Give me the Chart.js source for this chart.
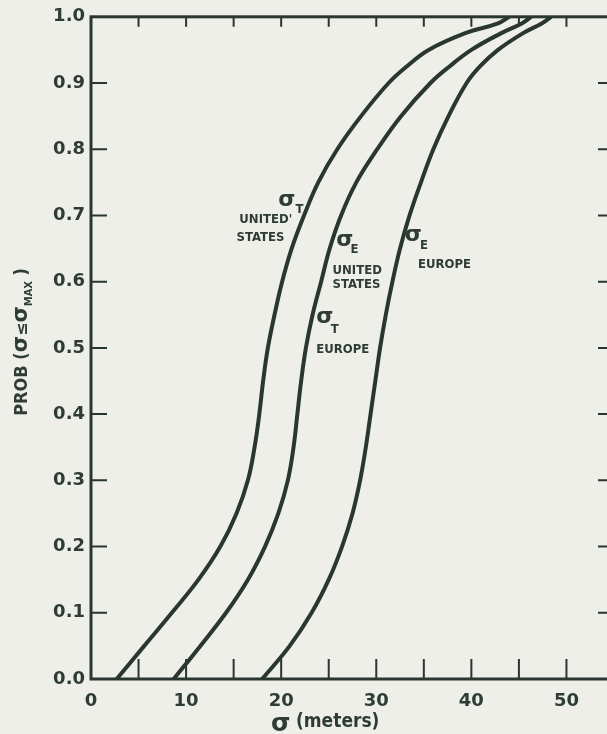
<!DOCTYPE html>
<html>
<head>
<meta charset="utf-8">
<script src="https://cdn.jsdelivr.net/npm/chart.js@4"></script>
<style>
  html, body { margin: 0; padding: 0; background: #eeefe8; overflow: hidden; }
  #wrap { position: absolute; left: 0; top: 0; width: 630px; height: 734px; }
</style>
</head>
<body>
<div id="wrap"><canvas id="chart"></canvas></div>
<script>
// probability levels
const probLevels = [0, 0.05, 0.1, 0.15, 0.2, 0.25, 0.3, 0.35, 0.4, 0.45, 0.5, 0.55, 0.6, 0.65, 0.7, 0.75, 0.8, 0.85, 0.9, 0.925, 0.95, 0.975, 0.99, 1.0];

// sigma (meters) at each level
const sigmaTUnitedStates = [2.7, 5.6, 8.5, 11.3, 13.6, 15.3, 16.5, 17.2, 17.7, 18.1, 18.6, 19.3, 20.1, 21.1, 22.4, 23.9, 25.9, 28.4, 31.3, 33.2, 35.5, 39.3, 42.8, 44.0];
const sigmaEUSTEurope   = [8.7, 11.5, 14.2, 16.5, 18.3, 19.7, 20.7, 21.3, 21.7, 22.1, 22.6, 23.3, 24.2, 25.1, 26.3, 27.9, 30.1, 32.6, 35.7, 37.7, 40.0, 43.1, 45.3, 46.3];
const sigmaEEurope      = [18.0, 20.9, 23.2, 25.0, 26.4, 27.5, 28.3, 28.9, 29.4, 29.9, 30.4, 31.0, 31.7, 32.5, 33.5, 34.7, 36.0, 37.6, 39.5, 40.9, 42.8, 45.4, 47.4, 48.4];

const xMax = 55;
const xStep = 5;
const yStep = 0.1;

// curve labels: symbol, subscript, lines of text (anchored in data units)
const curveLabels = [
  { sym: [19.7, 0.715], sub: "T", subAt: [21.5, 0.704], lines: [["UNITED'", 15.6, 0.688], ["STATES", 15.3, 0.662]] },
  { sym: [25.8, 0.654], sub: "E", subAt: [27.3, 0.643], lines: [["UNITED", 25.4, 0.612], ["STATES", 25.4, 0.590]] },
  { sym: [23.7, 0.537], sub: "T", subAt: [25.2, 0.522], lines: [["EUROPE", 23.7, 0.493]] },
  { sym: [33.0, 0.662], sub: "E", subAt: [34.6, 0.650], lines: [["EUROPE", 34.4, 0.621]] }
];

const ink = "#2a3631";
const textInk = "#2f3b36";
const cond = "'DejaVu Sans Condensed', 'DejaVu Sans'";

function toPoints(xs) {
  return xs.map((x, i) => ({ x: x, y: probLevels[i] }));
}

const framePlugin = {
  id: "frame",
  beforeDatasetsDraw(chart) {
    const { ctx, chartArea: a, scales } = chart;
    ctx.save();
    ctx.strokeStyle = ink;
    ctx.lineWidth = 2;
    ctx.beginPath();
    for (let v = xStep; v < xMax; v += xStep) {
      const px = scales.x.getPixelForValue(v);
      ctx.moveTo(px, a.bottom); ctx.lineTo(px, a.bottom - 20);
      ctx.moveTo(px, a.top); ctx.lineTo(px, a.top + 10);
    }
    for (let i = 1; i < 10; i++) {
      const py = scales.y.getPixelForValue(i * yStep);
      ctx.moveTo(a.left, py); ctx.lineTo(a.left + 16, py);
      ctx.moveTo(a.right, py); ctx.lineTo(a.right - 16, py);
    }
    ctx.stroke();
    ctx.lineWidth = 3;
    ctx.strokeRect(a.left, a.top, a.right - a.left, a.bottom - a.top);
    ctx.restore();
  },
  afterDraw(chart) {
    const { ctx, chartArea: a, scales } = chart;
    ctx.save();
    ctx.fillStyle = textInk;
    ctx.textBaseline = "alphabetic";
    ctx.textAlign = "left";
    const X = (v) => scales.x.getPixelForValue(v);
    const Y = (v) => scales.y.getPixelForValue(v);

    curveLabels.forEach((lab) => {
      ctx.font = "bold 22px 'DejaVu Sans'";
      ctx.fillText("\u03c3", X(lab.sym[0]), Y(lab.sym[1]));
      ctx.font = "bold 13px " + cond;
      ctx.fillText(lab.sub, X(lab.subAt[0]), Y(lab.subAt[1]));
      lab.lines.forEach((l) => {
        ctx.font = "bold 13px " + cond;
        ctx.fillText(l[0], X(l[1]), Y(l[2]));
      });
    });

    // x axis title
    ctx.font = "bold 25px 'DejaVu Sans'";
    ctx.fillText("\u03c3", 271, 731);
    ctx.font = "bold 19px " + cond;
    ctx.fillText("(meters)", 296, 727);

    // y axis title, rotated
    const parts = [
      ["PROB (", "bold 18px " + cond, 0],
      ["\u03c3", "bold 21px 'DejaVu Sans'", 0],
      ["\u2264", "bold 16px 'DejaVu Sans'", 0],
      ["\u03c3", "bold 21px 'DejaVu Sans'", 0],
      ["MAX", "bold 11px " + cond, 5],
      [" )", "bold 18px " + cond, 0]
    ];
    let total = 0;
    parts.forEach((p) => { ctx.font = p[1]; total += ctx.measureText(p[0]).width; });
    ctx.translate(27, (a.top + a.bottom) / 2 - 6);
    ctx.rotate(-Math.PI / 2);
    let cx = -total / 2;
    parts.forEach((p) => {
      ctx.font = p[1];
      ctx.fillText(p[0], cx, p[2]);
      cx += ctx.measureText(p[0]).width;
    });
    ctx.restore();
  }
};

const lineStyle = {
  borderColor: ink,
  borderWidth: 4,
  pointRadius: 0,
  fill: false,
  tension: 0.4
};

new Chart(document.getElementById("chart"), {
  type: "line",
  data: {
    datasets: [
      Object.assign({ label: "sigma T United States", data: toPoints(sigmaTUnitedStates) }, lineStyle),
      Object.assign({ label: "sigma E United States / sigma T Europe", data: toPoints(sigmaEUSTEurope) }, lineStyle),
      Object.assign({ label: "sigma E Europe", data: toPoints(sigmaEEurope) }, lineStyle)
    ]
  },
  options: {
    responsive: true,
    maintainAspectRatio: false,
    animation: false,
    layout: { padding: { top: 16, right: 16, left: 0, bottom: 0 } },
    plugins: { legend: { display: false }, tooltip: { enabled: false } },
    scales: {
      x: {
        type: "linear",
        min: 0,
        max: xMax,
        grid: { display: false, drawTicks: false },
        border: { display: false },
        ticks: {
          stepSize: xStep,
          autoSkip: false,
          maxRotation: 0,
          padding: 12,
          color: textInk,
          font: { family: "DejaVu Sans", weight: "bold", size: 18 },
          callback: (v) => (v % 10 === 0 && v < xMax ? String(v) : "")
        },
        afterFit: (s) => { s.height = 55; }
      },
      y: {
        min: 0,
        max: 1,
        grid: { display: false, drawTicks: false },
        border: { display: false },
        ticks: {
          stepSize: yStep,
          padding: 6,
          color: textInk,
          font: { family: "DejaVu Sans", weight: "bold", size: 18 },
          callback: (v) => v.toFixed(1)
        },
        afterFit: (s) => { s.width = 91; }
      }
    }
  },
  plugins: [framePlugin]
});
</script>
</body>
</html>
